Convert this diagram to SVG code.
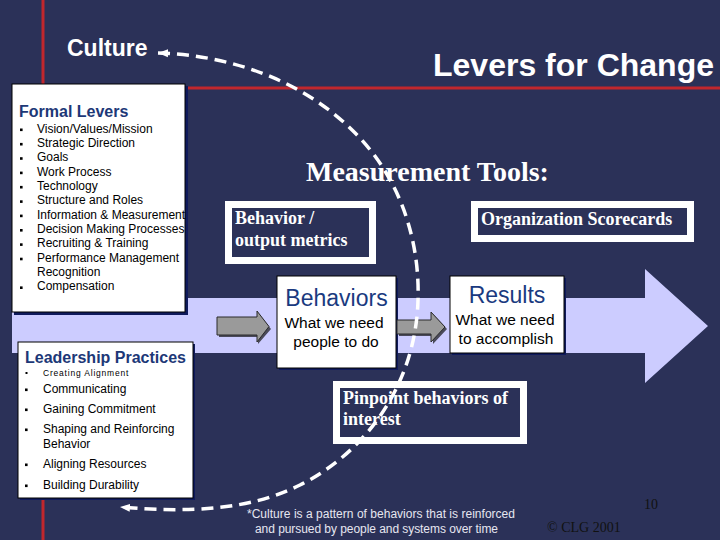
<svg xmlns="http://www.w3.org/2000/svg" width="720" height="540" viewBox="0 0 720 540">
<style>
.sans{font-family:"Liberation Sans",Arial,sans-serif}
.serif{font-family:"Liberation Serif","Times New Roman",serif}
.white{fill:#ffffff}
.hdr{fill:#1d3877;font-weight:bold}
.item{font-size:12px;fill:#000}
.box{fill:#ffffff;stroke:#000;stroke-width:1}
.shadow{fill:#0f1a5c}
.frame{fill:#2b3158;stroke:#ffffff;stroke-width:7}
.ftxt{font-size:18px;font-weight:bold;fill:#ffffff}
.big{font-size:23px;fill:#1a3a80}
.sub{font-size:15.5px;fill:#000}
.red{stroke:#c1272d;stroke-width:3}
.gray{fill:#9a9a9a;stroke:#2a2a2a;stroke-width:1}
.gshadow{fill:#4a4a5a}
.curve{fill:none;stroke:#ffffff;stroke-width:3.5;stroke-dasharray:12 7}
</style>
<defs>
<marker id="ah" markerUnits="userSpaceOnUse" markerWidth="12" markerHeight="10" refX="10" refY="5" orient="auto-start-reverse">
<path d="M0,1 L10,5 L0,9 Z" fill="#ffffff"/>
</marker>
</defs>
<rect x="0" y="0" width="720" height="540" fill="#2b3158"/>
<g id="decor">
<line class="red" x1="43" y1="0" x2="43" y2="540"/>
<line class="red" x1="180" y1="88" x2="720" y2="88"/>
</g>
<g id="band">
<path d="M12,298 H645 V269 L708,326 L645,383 V353 H12 Z" fill="#ccccff"/>
</g>
<g id="title">
<text class="sans white" x="433" y="76" font-size="32" font-weight="bold">Levers for Change</text>
</g>
<g id="culture">
<text class="sans white" x="67" y="56" font-size="23" font-weight="bold">Culture</text>
</g>
<g id="formal-levers">
<rect class="shadow" x="14" y="86" width="174" height="229"/>
<rect class="box" x="12" y="84" width="173" height="228"/>
<text class="sans hdr" x="19" y="117" font-size="16">Formal Levers</text>
<g fill="#000">
<rect x="20" y="128.5" width="2.6" height="2.6"/>
<rect x="20" y="142.9" width="2.6" height="2.6"/>
<rect x="20" y="157.2" width="2.6" height="2.6"/>
<rect x="20" y="171.6" width="2.6" height="2.6"/>
<rect x="20" y="185.9" width="2.6" height="2.6"/>
<rect x="20" y="200.3" width="2.6" height="2.6"/>
<rect x="20" y="214.6" width="2.6" height="2.6"/>
<rect x="20" y="229" width="2.6" height="2.6"/>
<rect x="20" y="243.3" width="2.6" height="2.6"/>
<rect x="20" y="257.7" width="2.6" height="2.6"/>
<rect x="20" y="286.4" width="2.6" height="2.6"/>
</g>
<g class="sans item">
<text x="37" y="132.5">Vision/Values/Mission</text>
<text x="37" y="146.9">Strategic Direction</text>
<text x="37" y="161.2">Goals</text>
<text x="37" y="175.6">Work Process</text>
<text x="37" y="189.9">Technology</text>
<text x="37" y="204.3">Structure and Roles</text>
<text x="37" y="218.6">Information &amp; Measurement</text>
<text x="37" y="233">Decision Making Processes</text>
<text x="37" y="247.3">Recruiting &amp; Training</text>
<text x="37" y="261.7">Performance Management</text>
<text x="37" y="276">Recognition</text>
<text x="37" y="290.4">Compensation</text>
</g>
</g>
<g id="leadership">
<rect class="shadow" x="20" y="344" width="175" height="156"/>
<rect class="box" x="18" y="342" width="175" height="156"/>
<text class="sans hdr" x="25" y="363" font-size="16">Leadership Practices</text>
<g fill="#000">
<rect x="25.5" y="372" width="2" height="2"/>
<rect x="25" y="388.5" width="2.6" height="2.6"/>
<rect x="25" y="408.5" width="2.6" height="2.6"/>
<rect x="25" y="428.5" width="2.6" height="2.6"/>
<rect x="25" y="463.5" width="2.6" height="2.6"/>
<rect x="25" y="484.5" width="2.6" height="2.6"/>
</g>
<g class="sans item">
<text x="43" y="376" font-size="8.5" letter-spacing="0.8">Creating Alignment</text>
<text x="43" y="393">Communicating</text>
<text x="43" y="413">Gaining Commitment</text>
<text x="43" y="433">Shaping and Reinforcing</text>
<text x="43" y="448">Behavior</text>
<text x="43" y="468">Aligning Resources</text>
<text x="43" y="489">Building Durability</text>
</g>
</g>
<g id="measurement-title">
<text class="serif white" x="306" y="181" font-size="28" font-weight="bold">Measurement Tools:</text>
</g>
<g id="behavior-metrics">
<rect class="frame" x="228.5" y="204.5" width="144" height="56"/>
<text class="serif ftxt" x="235" y="224">Behavior /</text>
<text class="serif ftxt" x="235" y="246">output metrics</text>
</g>
<g id="org-scorecards">
<rect class="frame" x="474.5" y="204.5" width="216" height="34"/>
<text class="serif ftxt" x="481" y="225">Organization Scorecards</text>
</g>
<g id="behaviors">
<rect class="shadow" x="279" y="278" width="119" height="92"/>
<rect class="box" x="277" y="276" width="119" height="92"/>
<text class="sans big" x="336.5" y="306" text-anchor="middle">Behaviors</text>
<text class="sans sub" x="334" y="327.5" text-anchor="middle">What we need</text>
<text class="sans sub" x="336" y="346.5" text-anchor="middle">people to do</text>
</g>
<g id="results">
<rect class="shadow" x="452" y="278" width="114" height="77"/>
<rect class="box" x="450" y="276" width="114" height="77"/>
<text class="sans big" x="507" y="303" text-anchor="middle">Results</text>
<text class="sans sub" x="505" y="324.5" text-anchor="middle">What we need</text>
<text class="sans sub" x="506" y="343.5" text-anchor="middle">to accomplish</text>
</g>
<g id="pinpoint">
<rect class="frame" x="336.5" y="384.5" width="187" height="56"/>
<text class="serif ftxt" x="343" y="404">Pinpoint behaviors of</text>
<text class="serif ftxt" x="343" y="425">interest</text>
</g>
<g id="footnote">
<text class="sans" x="247" y="518" font-size="12" fill="#e6e6f0" textLength="268" lengthAdjust="spacing">*Culture is a pattern of behaviors that is reinforced</text>
<text class="sans" x="255" y="533" font-size="12" fill="#e6e6f0" textLength="243" lengthAdjust="spacing">and pursued by people and systems over time</text>
</g>
<g id="page-number">
<text class="serif" x="644" y="509" font-size="14" fill="#111">10</text>
</g>
<g id="copyright">
<text class="serif" x="547" y="532" font-size="14" fill="#111">© CLG 2001</text>
</g>
<g id="connectors">
<path class="gshadow" d="M219,319 H258 V313 L271,329 L258,344 V337 H219 Z"/>
<path class="gray" d="M217,317 H257 V311 L269,326.5 L257,342 V335 H217 Z"/>
<path class="gshadow" d="M399,322 H433 V314 L447,329 L433,344 V336 H399 Z"/>
<path class="gray" d="M397,320 H431 V312 L445,327 L431,342 V334 H397 Z"/>
<path class="curve" d="M158,53 C230,55 300,80 350,128 C400,175 420,240 418,300 C416,380 370,450 300,485 C250,510 190,513 120,507" marker-start="url(#ah)" marker-end="url(#ah)"/>
</g>
</svg>
